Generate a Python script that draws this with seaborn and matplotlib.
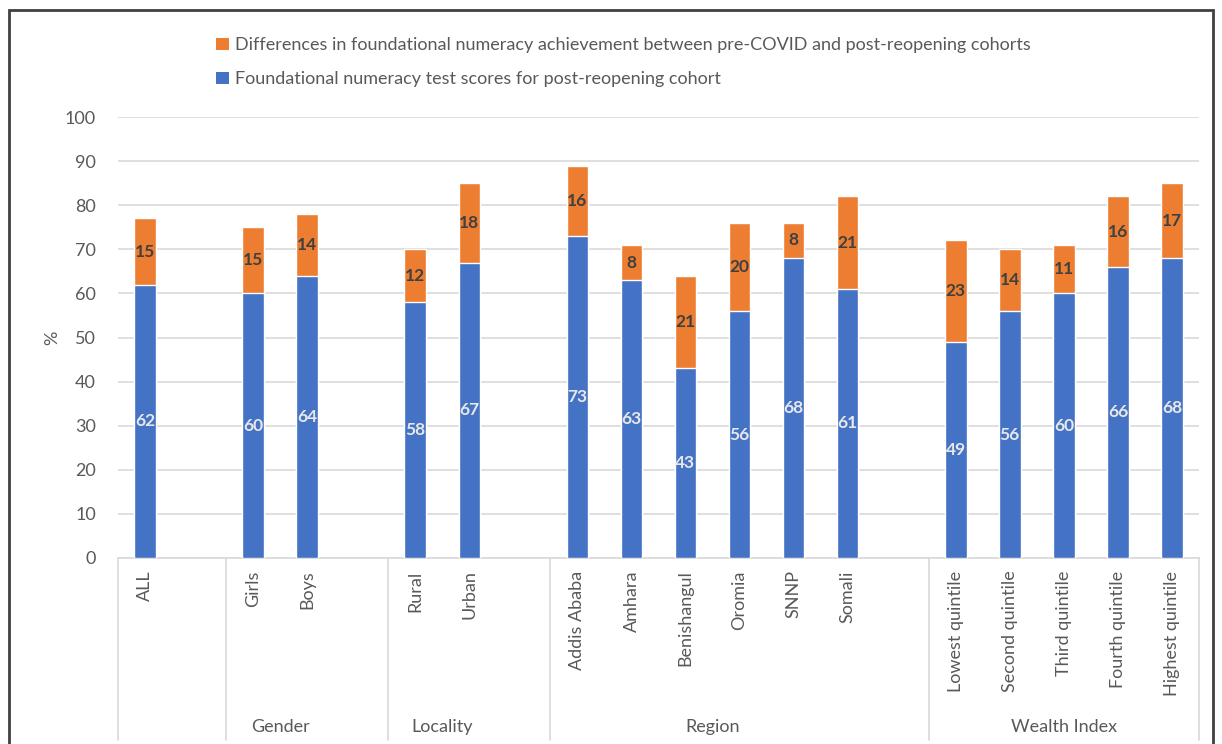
import matplotlib
matplotlib.use("Agg")
import matplotlib.pyplot as plt
from matplotlib.patches import Patch, Rectangle
import pandas as pd
import seaborn as sns

# ---- data ----
categories = ["ALL", "Girls", "Boys", "Rural", "Urban",
              "Addis Ababa", "Amhara", "Benishangul", "Oromia", "SNNP", "Somali",
              "Lowest quintile", "Second quintile", "Third quintile",
              "Fourth quintile", "Highest quintile"]
groups = ["", "Gender", "Gender", "Locality", "Locality",
          "Region", "Region", "Region", "Region", "Region", "Region",
          "Wealth Index", "Wealth Index", "Wealth Index", "Wealth Index", "Wealth Index"]
post_reopening = [62, 60, 64, 58, 67, 73, 63, 43, 56, 68, 61, 49, 56, 60, 66, 68]
difference = [15, 15, 14, 12, 18, 16, 8, 21, 20, 8, 21, 23, 14, 11, 16, 17]

label_blue = "Foundational numeracy test scores for post-reopening cohort"
label_orange = "Differences in foundational numeracy achievement between pre-COVID and post-reopening cohorts"

BLUE = "#4472C4"
ORANGE = "#ED7D31"
TXT = "#595959"
GRID = "#D9D9D9"
FS = 13

# slot positions: one empty slot between consecutive groups
positions = []
slot = -1
prev = None
for g in groups:
    slot += 1
    if prev is not None and g != prev:
        slot += 1
    positions.append(slot)
    prev = g
n_slots = positions[-1] + 1

df = pd.DataFrame({
    "category": categories,
    "group": groups,
    "pos": positions,
    "blue": post_reopening,
    "orange": difference,
})
df["total"] = df["blue"] + df["orange"]

sns.set_theme(style="white")
plt.rcParams["font.family"] = ["Lato", "DejaVu Sans"]

fig = plt.figure(figsize=(12.22, 7.44), dpi=100)
ax = fig.add_axes([118 / 1222, 1 - 558 / 744, (1199 - 118) / 1222, (558 - 117) / 744])

# stacked bars: full height in orange, post-reopening part in blue over it
sns.barplot(data=df, x="pos", y="total", native_scale=True, orient="x",
            width=0.4, color=ORANGE, saturation=1, errorbar=None, ax=ax, zorder=2)
sns.barplot(data=df, x="pos", y="blue", native_scale=True, orient="x",
            width=0.4, color=BLUE, saturation=1, errorbar=None, ax=ax, zorder=3)

for _, r in df.iterrows():
    ax.text(r["pos"], r["blue"] / 2, f"{r['blue']}", ha="center", va="center",
            fontsize=12.5, fontweight="bold", color="#E8E8E8", zorder=4)
    ax.text(r["pos"], r["blue"] + r["orange"] / 2, f"{r['orange']}", ha="center",
            va="center", fontsize=12.5, fontweight="bold", color="#404040", zorder=4)

ax.set_xlim(-0.5, n_slots - 0.5)
ax.set_ylim(0, 100)
ax.set_yticks(range(0, 101, 10))
ax.yaxis.grid(True, color=GRID, linewidth=1.2, zorder=0)
ax.set_axisbelow(True)
for side in ["top", "right", "left"]:
    ax.spines[side].set_visible(False)
ax.spines["bottom"].set_color(GRID)
ax.spines["bottom"].set_linewidth(1.2)
ax.tick_params(axis="y", length=0, pad=16, labelsize=FS, labelcolor=TXT)
ax.set_xticks(df["pos"])
ax.set_xticklabels(df["category"], rotation=90)
ax.tick_params(axis="x", length=0, pad=9, labelsize=FS, labelcolor=TXT)
ax.set_xlabel("")
ax.set_ylabel("%", fontsize=FS, color=TXT)
ax.yaxis.set_label_coords((60 - 118) / 1081, 0.5)

# group separators (each gap slot belongs to the group before it) and group names
depth = (740 - 558) / 441
tr = ax.get_xaxis_transform()
bounds = [-0.5]
for i in range(1, len(groups)):
    if groups[i] != groups[i - 1]:
        bounds.append(positions[i] - 0.5)
bounds.append(n_slots - 0.5)
for b in bounds:
    ax.plot([b, b], [0, -depth], transform=tr, color=GRID, linewidth=1.2, clip_on=False)
for g in dict.fromkeys(groups):
    if not g:
        continue
    ps = [p for p, gg in zip(positions, groups) if gg == g]
    ax.text((min(ps) + max(ps)) / 2, -(727 - 558) / 441, g, transform=tr,
            ha="center", va="center", fontsize=FS, color=TXT)

handles = [Patch(facecolor=ORANGE, edgecolor="none"), Patch(facecolor=BLUE, edgecolor="none")]
fig.legend(handles, [label_orange, label_blue], loc="upper left",
           bbox_to_anchor=(200 / 1222, 1 - 21 / 744), frameon=False,
           fontsize=FS, labelcolor=TXT, handlelength=0.7, handleheight=0.7,
           handletextpad=0.35, labelspacing=1.0)

fig.patches.append(Rectangle((9 / 1222, -0.05), (1213 - 9) / 1222, 1 - 10 / 744 + 0.05,
                             transform=fig.transFigure, fill=False,
                             edgecolor="#404040", linewidth=2))

fig.savefig("out.png", dpi=100)
